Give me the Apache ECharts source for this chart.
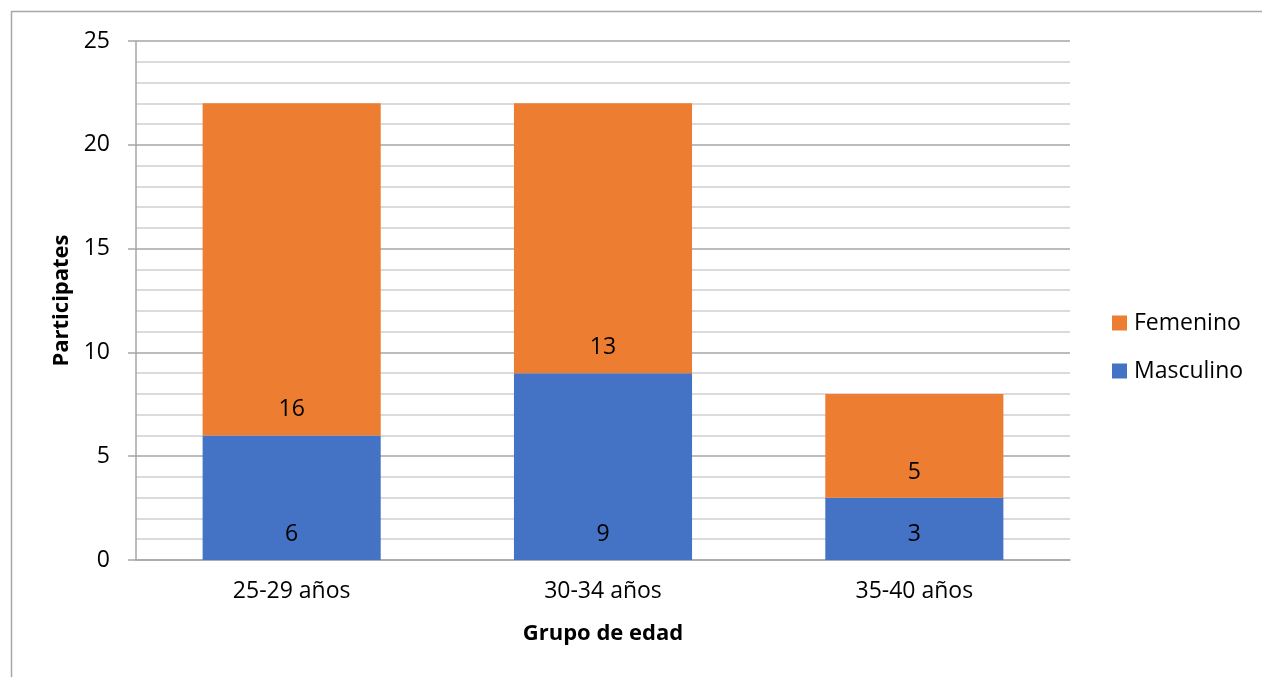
<!DOCTYPE html>
<html>
<head>
<meta charset="utf-8">
<script src="https://cdn.jsdelivr.net/npm/echarts@6/dist/echarts.min.js"></script>
<style>
  html, body { margin: 0; padding: 0; background: #fff; }
  #chart { width: 1262px; height: 677px; }
</style>
</head>
<body>
<div id="chart"></div>
<script>
// Participants per age group, split by sex
const categories = ['25-29 años', '30-34 años', '35-40 años'];
const masculino = [6, 9, 3];
const femenino = [16, 13, 5];
const yTicks = { min: 0, max: 25, interval: 5 };

const FONT = '"Open Sans", "Noto Sans", sans-serif';
const TEXT = '#000';

const chart = echarts.init(document.getElementById('chart'), null, { renderer: 'canvas' });

const labelStyle = {
  show: true,
  position: 'insideBottom',
  distance: 14,
  color: TEXT,
  fontFamily: FONT,
  fontSize: 23
};

chart.setOption({
  animation: false,
  backgroundColor: '#fff',
  graphic: [{
    type: 'rect',
    silent: true,
    shape: { x: 11.5, y: 11.5, width: 1400, height: 800 },
    style: { fill: 'none', stroke: '#A6A6A6', lineWidth: 1.5 }
  }],
  grid: { left: 136, right: 192, top: 41, bottom: 117, containLabel: false },
  legend: {
    orient: 'vertical',
    left: 1107,
    top: 305,
    itemWidth: 15,
    itemHeight: 15,
    itemGap: 22,
    icon: 'rect',
    data: ['Femenino', 'Masculino'],
    textStyle: { color: TEXT, fontFamily: FONT, fontSize: 23, lineHeight: 26, padding: [0, 0, 0, 2] }
  },
  xAxis: {
    type: 'category',
    data: categories,
    name: 'Grupo de edad',
    nameLocation: 'middle',
    nameGap: 63,
    nameTextStyle: { color: TEXT, fontFamily: FONT, fontSize: 22, fontWeight: 'bold' },
    axisLine: { show: true, lineStyle: { color: '#A6A6A6', width: 1.5 } },
    axisTick: { show: false },
    axisLabel: { color: TEXT, fontFamily: FONT, fontSize: 23, margin: 20 },
    splitLine: { show: false }
  },
  yAxis: {
    type: 'value',
    min: yTicks.min,
    max: yTicks.max,
    interval: yTicks.interval,
    name: 'Participates',
    nameLocation: 'middle',
    nameGap: 62,
    nameRotate: 90,
    nameTextStyle: { color: TEXT, fontFamily: FONT, fontSize: 22, fontWeight: 'bold' },
    axisLine: { show: true, lineStyle: { color: '#A6A6A6', width: 1.5 } },
    axisTick: { show: true, inside: false, length: 8, lineStyle: { color: '#A6A6A6', width: 1.5 } },
    minorTick: { show: false, splitNumber: 5 },
    axisLabel: { color: TEXT, fontFamily: FONT, fontSize: 23, margin: 26 },
    splitLine: { show: true, lineStyle: { color: '#A6A6A6', width: 1.5 } },
    minorSplitLine: { show: true, lineStyle: { color: '#D0D0D0', width: 1.5 } }
  },
  series: [
    {
      name: 'Masculino',
      type: 'bar',
      stack: 'total',
      barWidth: '57.2%',
      data: masculino,
      itemStyle: { color: '#4472C4' },
      label: labelStyle
    },
    {
      name: 'Femenino',
      type: 'bar',
      stack: 'total',
      barWidth: '57.2%',
      data: femenino,
      itemStyle: { color: '#ED7D31' },
      label: labelStyle
    }
  ]
});
</script>
</body>
</html>
